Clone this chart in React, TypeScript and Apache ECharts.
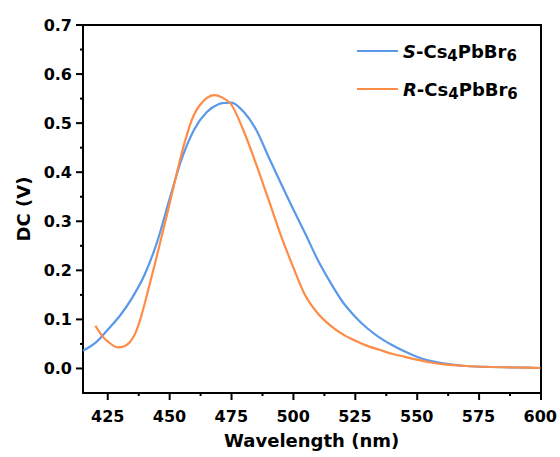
import React, { useEffect, useRef } from "react";
import * as echarts from "echarts";

const sWavelength = [415, 420, 425, 430, 435, 440, 445, 450, 455, 460, 465, 470, 475, 480, 485, 490, 495, 500, 505, 510, 515, 520, 525, 530, 535, 540, 545, 550, 555, 560, 570, 580, 590, 600];
const sValues = [0.036, 0.052, 0.079, 0.108, 0.145, 0.192, 0.258, 0.345, 0.428, 0.487, 0.522, 0.539, 0.542, 0.523, 0.487, 0.432, 0.378, 0.325, 0.274, 0.221, 0.176, 0.136, 0.106, 0.082, 0.063, 0.048, 0.035, 0.024, 0.016, 0.011, 0.005, 0.003, 0.002, 0.001];

const rWavelength = [420, 423, 425, 429, 432, 434, 436, 438, 440, 442, 446, 450, 455, 458, 460, 462, 465, 468, 471, 475, 480, 485, 490, 495, 500, 505, 510, 515, 520, 525, 530, 535, 540, 545, 550, 555, 560, 570, 580, 590, 600];
const rValues = [0.087, 0.065, 0.055, 0.043, 0.046, 0.054, 0.07, 0.097, 0.133, 0.172, 0.252, 0.335, 0.44, 0.492, 0.518, 0.535, 0.551, 0.557, 0.553, 0.538, 0.484, 0.417, 0.345, 0.272, 0.207, 0.148, 0.112, 0.088, 0.07, 0.057, 0.046, 0.038, 0.03, 0.024, 0.018, 0.013, 0.009, 0.005, 0.003, 0.002, 0.001];

const xMajorTicks = [425, 450, 475, 500, 525, 550, 575, 600];
const xMinorTicks = [437.5, 462.5, 487.5, 512.5, 537.5, 562.5, 587.5];
const yMajorTicks = [0, 0.1, 0.2, 0.3, 0.4, 0.5, 0.6, 0.7];
const yMinorTicks = [0.05, 0.15, 0.25, 0.35, 0.45, 0.55, 0.65];

const X_MIN = 415;
const X_MAX = 600;
const Y_MIN = -0.05;
const Y_MAX = 0.7;

const W = 560;
const H = 457;
const GRID = { left: 83, top: 25, right: 19, bottom: 64 };

const FONT = "'DejaVu Sans', sans-serif";
const BLUE = "#5a98ea";
const ORANGE = "#ff8c45";

export default function App() {
  const ref = useRef<HTMLDivElement>(null);
  useEffect(() => {
    if (!ref.current) return;
    const chart = echarts.init(ref.current, null, { renderer: "svg" });
    const labelStyle = { color: "#000", fontWeight: "bold" as const, fontSize: 16, fontFamily: FONT };

    // Outward tick marks and frame for the linear axes spanning the grid
    const plotW = W - GRID.left - GRID.right;
    const plotH = H - GRID.top - GRID.bottom;
    const xPx = (v: number) => GRID.left + ((v - X_MIN) / (X_MAX - X_MIN)) * plotW;
    const yPx = (v: number) => GRID.top + ((Y_MAX - v) / (Y_MAX - Y_MIN)) * plotH;
    const axisY = GRID.top + plotH;
    const axisX = GRID.left;
    const rightX = GRID.left + plotW;
    const st = { stroke: "#000", lineWidth: 2 };
    const elements: any[] = [
      { type: "line", shape: { x1: axisX - 1, y1: GRID.top, x2: rightX + 1, y2: GRID.top }, style: st },
      { type: "line", shape: { x1: rightX, y1: GRID.top, x2: rightX, y2: axisY }, style: st },
    ];
    const addX = (vals: number[], len: number) =>
      vals.forEach((v) => {
        const x = xPx(v);
        elements.push({ type: "line", shape: { x1: x, y1: axisY, x2: x, y2: axisY + len }, style: st });
      });
    const addY = (vals: number[], len: number) =>
      vals.forEach((v) => {
        const y = yPx(v);
        elements.push({ type: "line", shape: { x1: axisX, y1: y, x2: axisX - len, y2: y }, style: st });
      });
    addX(xMajorTicks, 7);
    addX(xMinorTicks, 3);
    addY(yMajorTicks, 7);
    addY(yMinorTicks, 3);

    chart.setOption({
      animation: false,
      grid: { ...GRID },
      graphic: elements,
      legend: {
        orient: "vertical",
        left: 352,
        top: 34,
        itemWidth: 41,
        itemHeight: 2,
        itemGap: 14,
        data: [
          { name: "S-Cs4PbBr6", icon: "rect" },
          { name: "R-Cs4PbBr6", icon: "rect" },
        ],
        formatter: (name: string) => `{i|${name[0]}}{n|-Cs}{s|4}{n|PbBr}{s|6}`,
        textStyle: {
          fontFamily: FONT,
          rich: {
            i: { fontSize: 18, fontWeight: "bold", fontStyle: "italic", fontFamily: FONT, color: "#000", lineHeight: 24 },
            n: { fontSize: 18, fontWeight: "bold", fontFamily: FONT, color: "#000", lineHeight: 24 },
            s: { fontSize: 15, fontWeight: "bold", fontFamily: FONT, color: "#000", lineHeight: 24, padding: [9, 0, 0, 0] },
          },
        },
      },
      xAxis: {
        type: "value",
        min: X_MIN,
        max: X_MAX,
        name: "Wavelength (nm)",
        nameLocation: "middle",
        nameGap: 38,
        nameTextStyle: { color: "#000", fontWeight: "bold", fontSize: 18, fontFamily: FONT },
        axisLine: { show: true, onZero: false, lineStyle: { color: "#000", width: 2 } },
        axisTick: { show: false },
        axisLabel: { ...labelStyle, customValues: xMajorTicks, margin: 15 },
        splitLine: { show: false },
      },
      yAxis: {
        type: "value",
        min: Y_MIN,
        max: Y_MAX,
        name: "DC (V)",
        nameLocation: "middle",
        nameGap: 50,
        nameTextStyle: { color: "#000", fontWeight: "bold", fontSize: 18, fontFamily: FONT },
        axisLine: { show: true, onZero: false, lineStyle: { color: "#000", width: 2 } },
        axisTick: { show: false },
        axisLabel: { ...labelStyle, customValues: yMajorTicks, margin: 11, formatter: (v: number) => v.toFixed(1) },
        splitLine: { show: false },
      },
      series: [
        {
          name: "S-Cs4PbBr6",
          type: "line",
          smooth: 0.3,
          symbol: "none",
          lineStyle: { color: BLUE, width: 2.2 },
          itemStyle: { color: BLUE },
          data: sWavelength.map((w, i) => [w, sValues[i]]),
        },
        {
          name: "R-Cs4PbBr6",
          type: "line",
          smooth: 0.3,
          symbol: "none",
          lineStyle: { color: ORANGE, width: 2.2 },
          itemStyle: { color: ORANGE },
          data: rWavelength.map((w, i) => [w, rValues[i]]),
        },
      ],
    });

    return () => chart.dispose();
  }, []);
  return <div ref={ref} style={{ width: W, height: H, position: "absolute", left: 0, top: 0 }} />;
}
